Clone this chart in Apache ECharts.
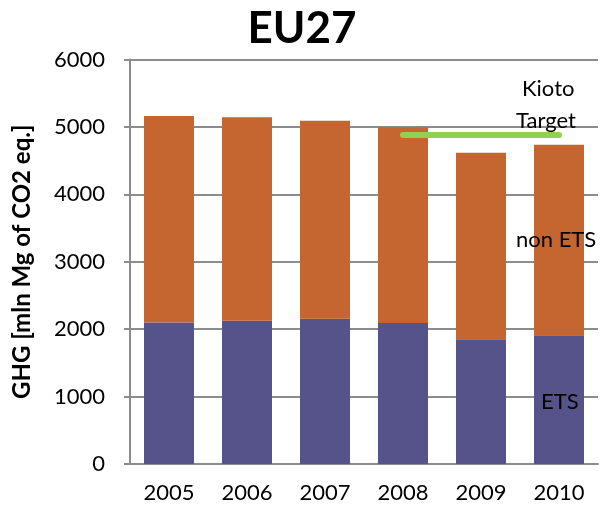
<!DOCTYPE html>
<html>
<head>
<meta charset="utf-8">
<script src="https://cdn.jsdelivr.net/npm/echarts@6/dist/echarts.min.js"></script>
<style>html,body{margin:0;padding:0;background:#fff}#c{width:604px;height:511px}</style>
</head>
<body>
<div id="c"></div>
<script>
const years = ['2005', '2006', '2007', '2008', '2009', '2010'];
const etsValues = [2100, 2125, 2155, 2090, 1850, 1910];
const nonEtsValues = [3062, 3017, 2937, 2904, 2768, 2826];
const kiotoTarget = [null, null, null, 4880, 4880, 4880];
const yTicks = [0, 1000, 2000, 3000, 4000, 5000, 6000];

const FONT = 'Lato, "Liberation Sans", sans-serif';
const chart = echarts.init(document.getElementById('c'), null, {renderer: 'canvas'});
chart.setOption({
  animation: false,
  backgroundColor: '#ffffff',
  title: {
    text: 'EU27', left: 'center', top: 2,
    textStyle: {fontFamily: FONT, fontWeight: 'bold', fontSize: 44, color: '#000'}
  },
  grid: {left: 130, right: 6, top: 59.5, bottom: 47},
  xAxis: {
    type: 'category', data: years,
    axisLine: {lineStyle: {color: '#8c8c8c', width: 2}},
    axisTick: {show: false},
    axisLabel: {fontFamily: FONT, fontSize: 22, color: '#000', margin: 18}
  },
  yAxis: {
    type: 'value', min: yTicks[0], max: yTicks[yTicks.length - 1], interval: 1000,
    name: 'GHG [mln Mg of CO2 eq.]', nameLocation: 'middle', nameGap: 96,
    nameTextStyle: {fontFamily: FONT, fontWeight: 'bold', fontSize: 24, color: '#000'},
    axisLine: {show: true, lineStyle: {color: '#8c8c8c', width: 2}},
    axisTick: {show: true, length: 6, inside: false, lineStyle: {color: '#8c8c8c', width: 2}},
    axisLabel: {fontFamily: FONT, fontSize: 22, color: '#000', margin: 25,
                formatter: v => String(v)},
    splitLine: {lineStyle: {color: '#8c8c8c', width: 2}}
  },
  series: [
    {name: 'ETS', type: 'bar', stack: 'tot', data: etsValues, barWidth: 50,
     itemStyle: {color: '#55538A'}},
    {name: 'non ETS', type: 'bar', stack: 'tot', data: nonEtsValues, barWidth: 50,
     itemStyle: {color: '#C5652F'}},
    {name: 'Kioto Target', type: 'line', data: kiotoTarget, showSymbol: false, symbol: 'none',
     lineStyle: {color: '#92D050', width: 6, cap: 'round'}, z: 5}
  ],
  graphic: [
    {type: 'text', left: 522, top: 78, z: 100, style: {text: 'Kioto', font: '22px ' + FONT, fill: '#000'}},
    {type: 'text', left: 516, top: 110, z: 100, style: {text: 'Target', font: '22px ' + FONT, fill: '#000'}},
    {type: 'text', left: 516, top: 229, z: 100, style: {text: 'non ETS', font: '22px ' + FONT, fill: '#000'}},
    {type: 'text', left: 541, top: 391, z: 100, style: {text: 'ETS', font: '22px ' + FONT, fill: '#000'}}
  ]
});
</script>
</body>
</html>
